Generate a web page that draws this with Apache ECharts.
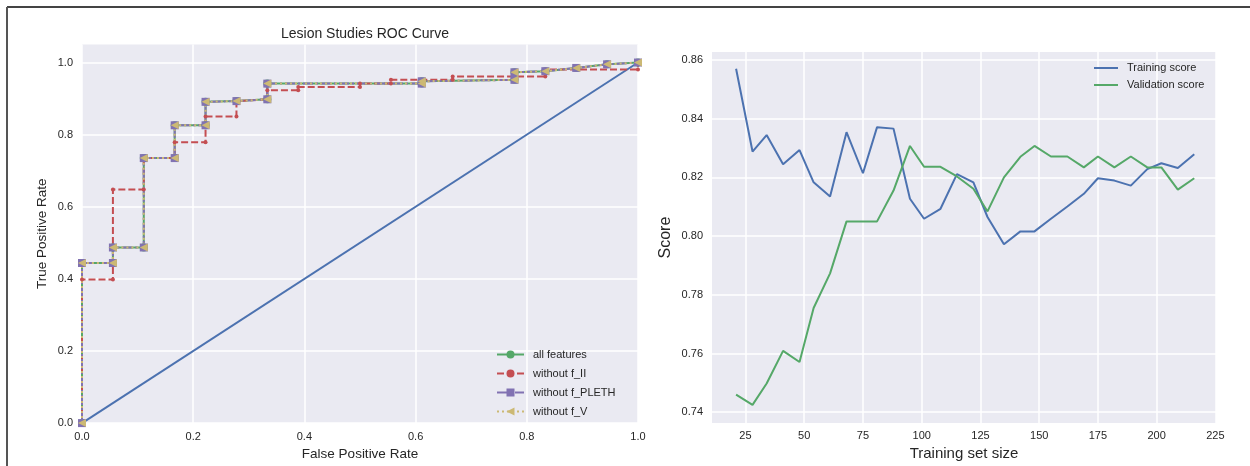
<!DOCTYPE html>
<html>
<head>
<meta charset="utf-8">
<script src="https://cdn.jsdelivr.net/npm/echarts@6/dist/echarts.min.js"></script>
<style>
html,body{margin:0;padding:0;background:#fff;}
#chart{width:1250px;height:466px;}
</style>
</head>
<body>
<div id="chart"></div>
<script>
// ---- ROC chart data ----
const rocTitle = 'Lesion Studies ROC Curve';
const rocTicks = [0, 0.2, 0.4, 0.6, 0.8, 1.0];
const diagFpr = [0, 1];
const diagTpr = [0, 1];
const allFpr = [0, 0, 0.0556, 0.0556, 0.1111, 0.1111, 0.1667, 0.1667, 0.2222, 0.2222, 0.2778, 0.3333, 0.3333, 0.6111, 0.6111, 0.7778, 0.7778, 0.8333, 0.8889, 0.9444, 1.0];
const allTpr = [0, 0.444, 0.444, 0.487, 0.487, 0.735, 0.735, 0.826, 0.826, 0.891, 0.893, 0.898, 0.9415, 0.9415, 0.948, 0.952, 0.973, 0.976, 0.985, 0.995, 1.0];
const noIIFpr = [0, 0, 0.0556, 0.0556, 0.1111, 0.1111, 0.1667, 0.1667, 0.2222, 0.2222, 0.2778, 0.2778, 0.3333, 0.3333, 0.3889, 0.3889, 0.5, 0.5, 0.5556, 0.5556, 0.6667, 0.6667, 0.8333, 0.8333, 1.0, 1.0];
const noIITpr = [0, 0.398, 0.398, 0.648, 0.648, 0.735, 0.735, 0.779, 0.779, 0.850, 0.850, 0.893, 0.898, 0.923, 0.923, 0.932, 0.932, 0.9415, 0.9415, 0.9525, 0.9525, 0.9615, 0.9615, 0.981, 0.981, 1.0];
const noPlethFpr = [0, 0, 0.0556, 0.0556, 0.1111, 0.1111, 0.1667, 0.1667, 0.2222, 0.2222, 0.2778, 0.3333, 0.3333, 0.6111, 0.6111, 0.7778, 0.7778, 0.8333, 0.8889, 0.9444, 1.0];
const noPlethTpr = [0, 0.444, 0.444, 0.487, 0.487, 0.735, 0.735, 0.826, 0.826, 0.891, 0.893, 0.898, 0.9415, 0.9415, 0.948, 0.952, 0.973, 0.976, 0.985, 0.995, 1.0];
const noVFpr = [0, 0, 0.0556, 0.0556, 0.1111, 0.1111, 0.1667, 0.1667, 0.2222, 0.2222, 0.2778, 0.3333, 0.3333, 0.6111, 0.6111, 0.7778, 0.7778, 0.8333, 0.8889, 0.9444, 1.0];
const noVTpr = [0, 0.444, 0.444, 0.487, 0.487, 0.735, 0.735, 0.826, 0.826, 0.891, 0.893, 0.898, 0.9415, 0.9415, 0.948, 0.952, 0.973, 0.976, 0.985, 0.995, 1.0];
const rocNames = ['all features', 'without f_II', 'without f_PLETH', 'without f_V'];

// ---- Learning curve data ----
const trainSizes = [21, 28, 34, 41, 48, 54, 61, 68, 75, 81, 88, 95, 101, 108, 115, 122, 128, 135, 142, 148, 155, 162, 169, 175, 182, 189, 196, 202, 209, 216];
const trainScores = [0.857, 0.8288, 0.8344, 0.8245, 0.8293, 0.8183, 0.8135, 0.8354, 0.8214, 0.8371, 0.8366, 0.8127, 0.8059, 0.8093, 0.8211, 0.8183, 0.8065, 0.7972, 0.8016, 0.8016, 0.8059, 0.8101, 0.8144, 0.8197, 0.8189, 0.8172, 0.8228, 0.8248, 0.8232, 0.8279];
const valScores = [0.7460, 0.7425, 0.7498, 0.7609, 0.7571, 0.7755, 0.7873, 0.8050, 0.8050, 0.8050, 0.8155, 0.8307, 0.8236, 0.8236, 0.8203, 0.8161, 0.8084, 0.8200, 0.8270, 0.8307, 0.8271, 0.8271, 0.8234, 0.8271, 0.8234, 0.8271, 0.8234, 0.8234, 0.8158, 0.8197];
const lcNames = ['Training score', 'Validation score'];
const sizeTicks = [25, 50, 75, 100, 125, 150, 175, 200, 225];
const scoreTicks = [0.74, 0.76, 0.78, 0.80, 0.82, 0.84, 0.86];

const zip = (xs, ys) => xs.map((x, i) => [x, ys[i]]);

const TXT = '#262626';
const FONT = '"Liberation Sans", Arial, sans-serif';
const C = { blue: '#4C72B0', green: '#55A868', red: '#C44E52', purple: '#8172B2', yellow: '#CCB974' };

function valAxis(extra) {
  return Object.assign({
    type: 'value',
    axisLine: { show: false },
    axisTick: { show: false },
    splitLine: { show: true, lineStyle: { color: '#ffffff', width: 1.5 } },
    nameLocation: 'middle',
    nameTextStyle: { color: TXT, fontFamily: FONT }
  }, extra);
}

const chart = echarts.init(document.getElementById('chart'), null, { renderer: 'canvas' });
chart.setOption({
  animation: false,
  backgroundColor: '#ffffff',
  textStyle: { fontFamily: FONT, color: TXT },
  title: {
    text: rocTitle,
    left: 360, top: 22, textAlign: 'center',
    textStyle: { fontSize: 14, fontWeight: 'normal', color: TXT, fontFamily: FONT }
  },
  graphic: [
    { type: 'line', shape: { x1: 7, y1: 7, x2: 1250, y2: 7 }, style: { stroke: '#444', lineWidth: 2 } },
    { type: 'line', shape: { x1: 7, y1: 7, x2: 7, y2: 466 }, style: { stroke: '#555', lineWidth: 2 } }
  ],
  grid: [
    { left: 82, top: 44.5, width: 556, height: 382, show: true, backgroundColor: '#EAEAF2', borderWidth: 0 },
    { left: 712, top: 52, width: 504, height: 374, show: true, backgroundColor: '#EAEAF2', borderWidth: 0 }
  ],
  legend: [
    {
      data: rocNames, left: 496, top: 349, orient: 'vertical', padding: 0,
      itemWidth: 27, itemHeight: 10, itemGap: 8,
      textStyle: { fontSize: 11, color: TXT, fontFamily: FONT, padding: [0, 0, 0, 4] }
    },
    {
      data: lcNames, left: 1094, top: 62.5, orient: 'vertical', padding: 0,
      icon: 'rect', itemWidth: 24, itemHeight: 2, itemGap: 6,
      textStyle: { fontSize: 11, color: TXT, fontFamily: FONT, padding: [0, 0, 0, 4] }
    }
  ],
  xAxis: [
    valAxis({
      gridIndex: 0, min: 0, max: 1,
      axisTick: { show: false, customValues: rocTicks },
      axisLabel: { customValues: rocTicks, formatter: v => v.toFixed(1), color: TXT, fontSize: 11, margin: 8 },
      name: 'False Positive Rate', nameGap: 21, nameTextStyle: { fontSize: 13.5, color: TXT }
    }),
    valAxis({
      gridIndex: 1, min: 10.75, max: 225.25,
      axisTick: { show: false, customValues: sizeTicks },
      axisLabel: { customValues: sizeTicks, formatter: v => String(Math.round(v)), color: TXT, fontSize: 11, margin: 7, showMaxLabel: true },
      name: 'Training set size', nameGap: 22, nameTextStyle: { fontSize: 15, color: TXT }
    }),
  ],
  yAxis: [
    valAxis({
      gridIndex: 0, min: 0, max: 1.05,
      axisTick: { show: false, customValues: rocTicks },
      axisLabel: { customValues: rocTicks, formatter: v => v.toFixed(1), color: TXT, fontSize: 11, margin: 9 },
      name: 'True Positive Rate', nameGap: 33, nameTextStyle: { fontSize: 13.5, color: TXT }
    }),
    valAxis({
      gridIndex: 1, min: 0.7363, max: 0.8627,
      axisTick: { show: false, customValues: scoreTicks },
      axisLabel: { customValues: scoreTicks, formatter: v => v.toFixed(2), color: TXT, fontSize: 11, margin: 9 },
      name: 'Score', nameGap: 38, nameTextStyle: { fontSize: 16, color: TXT }
    })
  ],
  series: [
    {
      name: 'diag', type: 'line', xAxisIndex: 0, yAxisIndex: 0,
      data: zip(diagFpr, diagTpr), symbol: 'none',
      lineStyle: { color: C.blue, width: 2 }, itemStyle: { color: C.blue }, silent: true
    },
    {
      name: rocNames[0], type: 'line', xAxisIndex: 0, yAxisIndex: 0,
      data: zip(allFpr, allTpr), symbol: 'circle', symbolSize: 8, showAllSymbol: true,
      lineStyle: { color: C.green, width: 2 }, itemStyle: { color: C.green }
    },
    {
      name: rocNames[1], type: 'line', xAxisIndex: 0, yAxisIndex: 0,
      data: zip(noIIFpr, noIITpr), symbol: 'circle', symbolSize: 4, showAllSymbol: true,
      lineStyle: { color: C.red, width: 2, type: [7, 3] }, itemStyle: { color: C.red }
    },
    {
      name: rocNames[2], type: 'line', xAxisIndex: 0, yAxisIndex: 0,
      data: zip(noPlethFpr, noPlethTpr), symbol: 'rect', symbolSize: 8, showAllSymbol: true,
      lineStyle: { color: C.purple, width: 2, type: [10, 3, 2, 3] }, itemStyle: { color: C.purple }
    },
    {
      name: rocNames[3], type: 'line', xAxisIndex: 0, yAxisIndex: 0,
      data: zip(noVFpr, noVTpr), symbol: 'triangle', symbolRotate: 90, symbolSize: 8, showAllSymbol: true,
      lineStyle: { color: C.yellow, width: 2, type: [2, 3] }, itemStyle: { color: C.yellow }
    },
    {
      name: lcNames[0], type: 'line', xAxisIndex: 1, yAxisIndex: 1,
      data: zip(trainSizes, trainScores), symbol: 'none',
      lineStyle: { color: C.blue, width: 2 }, itemStyle: { color: C.blue }
    },
    {
      name: lcNames[1], type: 'line', xAxisIndex: 1, yAxisIndex: 1,
      data: zip(trainSizes, valScores), symbol: 'none',
      lineStyle: { color: C.green, width: 2 }, itemStyle: { color: C.green }
    }
  ]
});
</script>
</body>
</html>
